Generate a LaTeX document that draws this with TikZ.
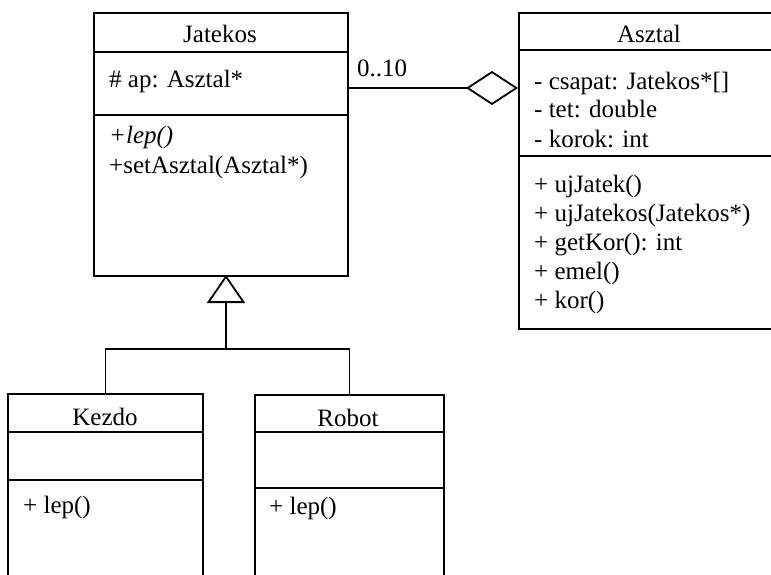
\documentclass[tikz,border=0pt]{standalone}
\usepackage{fontspec}
\setmainfont{Liberation Serif}
\usetikzlibrary{arrows.meta}
\begin{document}
\begin{tikzpicture}[x=1pt,y=-1pt,
  cls/.style={draw,line width=1.8pt,rectangle,anchor=north west,inner sep=0pt},
  txt/.style={anchor=base west,inner sep=0pt,font=\fontsize{25}{29}\selectfont},
  ttl/.style={anchor=base,inner sep=0pt,font=\fontsize{25}{29}\selectfont},
  div/.style={line width=1.6pt},
  conn/.style={line width=1.8pt}]
\useasboundingbox (0,0) rectangle (771,575);
\clip (0,0) rectangle (771,575);
\fill[white] (0,0) rectangle (771,575);
% classes
\node[cls,minimum width=254pt,minimum height=263pt] (jat) at (93,12) {};
\node[cls,minimum width=272pt,minimum height=316pt] (asz) at (518,12) {};
\node[cls,minimum width=195pt,minimum height=220pt] (kez) at (7,393) {};
\node[cls,minimum width=189pt,minimum height=220pt] (rob) at (254,394) {};
% dividers
\draw[div] (93,52) -- (347,52);
\draw[div] (93,115) -- (347,115);
\draw[div] (518,50) -- (790,50);
\draw[div] (518,156) -- (790,156);
\draw[div] (7,432) -- (202,432);
\draw[div] (7,480) -- (202,480);
\draw[div] (254,432) -- (443,432);
\draw[div] (254,488) -- (443,488);
% Jatekos text
\node[ttl] (jt) at (220,43) {Jatekos};
\node[txt] (j1) at (109,88) {\# ap: Asztal*};
\node[txt] (j2) at (109,144) {\textit{+lep()}};
\node[txt] (j3) at (109,173) {+setAsztal(Asztal*)};
% Asztal text
\node[ttl] (at) at (649,43) {Asztal};
\node[txt] (a1) at (534,90) {- csapat: Jatekos*[]};
\node[txt] (a2) at (534,118) {- tet: double};
\node[txt] (a3) at (534,147) {- korok: int};
\node[txt] (a4) at (534,192) {+ ujJatek()};
\node[txt] (a5) at (534,221) {+ ujJatekos(Jatekos*)};
\node[txt] (a6) at (534,250) {+ getKor(): int};
\node[txt] (a7) at (534,279) {+ emel()};
\node[txt] (a8) at (534,308) {+ kor()};
% Kezdo / Robot text
\node[ttl] (kt) at (105,425) {Kezdo};
\node[txt] (k1) at (23,513) {+ lep()};
\node[ttl] (rt) at (348,426) {Robot};
\node[txt] (r1) at (269,514) {+ lep()};
% aggregation
\coordinate (aggy) at (0,88);
\draw[conn,-{Diamond[open,length=52pt,width=34pt]}] (jat.east |- aggy) -- (asz.west |- aggy);
\node[txt] (mult) at (357,77) {0..10};
% inheritance
\coordinate (apex) at (226,275);
\coordinate (junc) at (226,349);
\draw[line width=2.8pt,-{Triangle[open,length=28pt,width=38pt,line width=1.8pt]}] (junc) -- (apex);
\draw[conn] (kez.north) -- (kez.north |- junc) -- (rob.north |- junc) -- (rob.north);
\end{tikzpicture}
\end{document}
